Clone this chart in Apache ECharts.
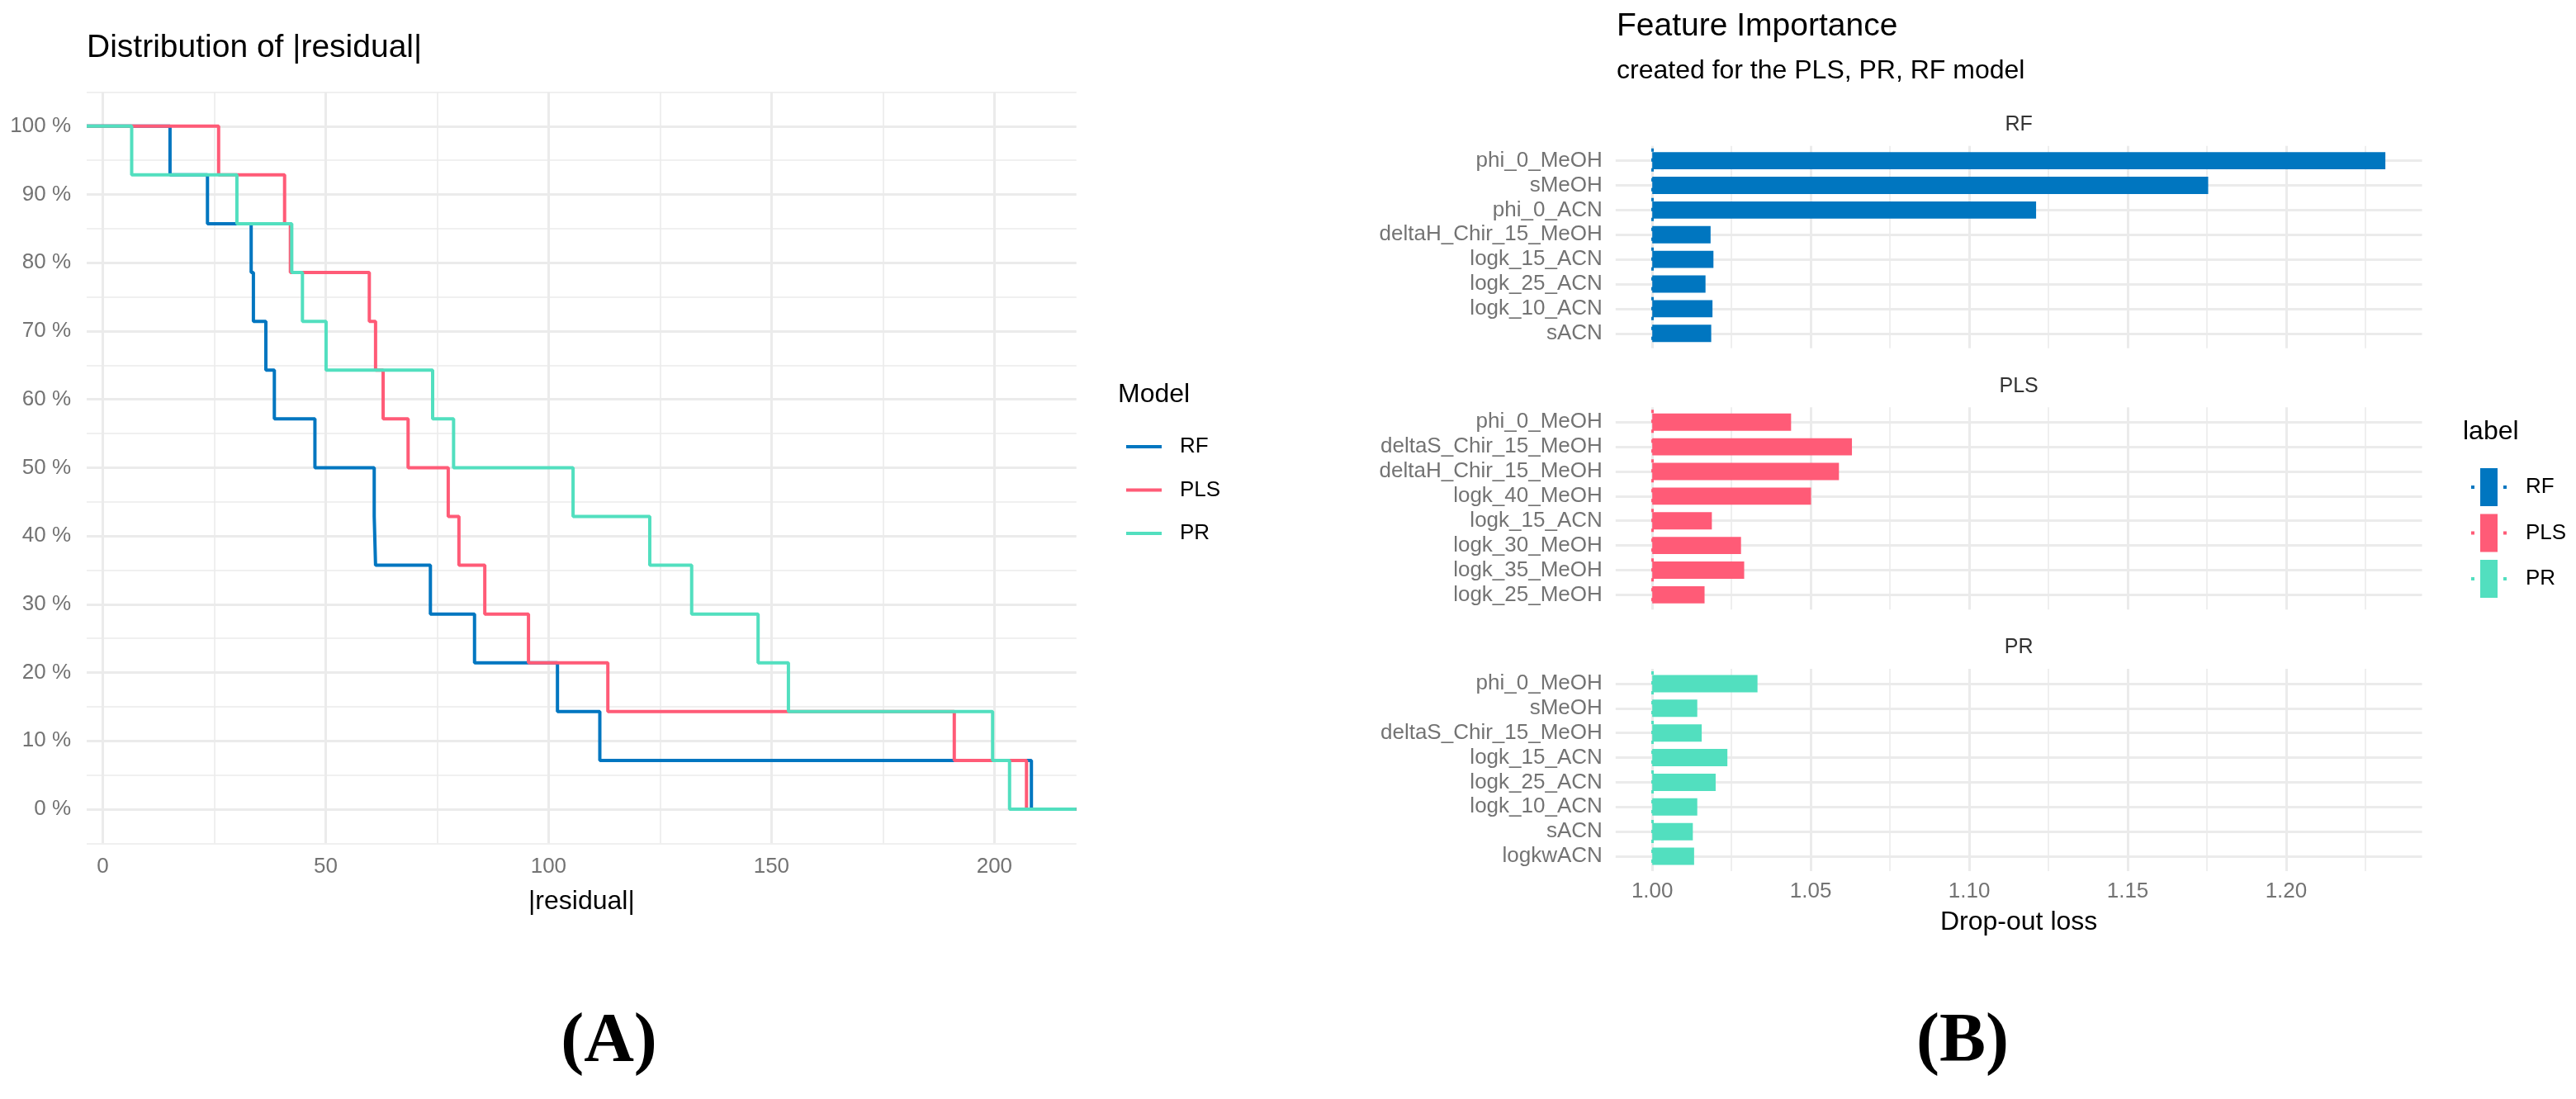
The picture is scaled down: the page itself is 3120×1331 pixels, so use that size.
<!DOCTYPE html>
<html>
<head>
<meta charset="utf-8">
<title>Residuals and feature importance</title>
<script src="https://cdn.jsdelivr.net/npm/echarts@6/dist/echarts.min.js"></script>
<style>
  html, body { margin: 0; padding: 0; background: #fff; }
  #main { width: 3120px; height: 1331px; }
</style>
</head>
<body>
<div id="main"></div>
<script>
var chart = echarts.init(document.getElementById('main'));

// ---- data ----
const models = ['RF', 'PLS', 'PR'];
const modelColors = ['#0076c0', '#ff5b77', '#52dfbf'];

// panel A : |residual| of every observation, per model
const residRF  = [15.1, 23.5, 33.3, 33.8, 36.6, 38.5, 47.6, 60.9, 61.2, 73.5, 83.4, 102.0, 111.5, 208.3];
const residPLS = [26.0, 40.8, 42.1, 59.8, 61.2, 62.9, 68.5, 77.5, 79.9, 85.7, 95.5, 113.3, 191.0, 207.2];
const residPR  = [6.5, 30.1, 42.4, 44.8, 50.1, 74.0, 78.7, 105.5, 122.7, 132.1, 147.0, 153.8, 199.6, 203.4];

const residTicks = [0, 50, 100, 150, 200];
const residMinor = [25, 75, 125, 175];
const shareTicks = [0, 0.1, 0.2, 0.3, 0.4, 0.5, 0.6, 0.7, 0.8, 0.9, 1];
const shareMinor = [-0.05, 0.05, 0.15, 0.25, 0.35, 0.45, 0.55, 0.65, 0.75, 0.85, 0.95, 1.05];

// panel B : drop-out loss per feature
const featRF  = ['phi_0_MeOH', 'sMeOH', 'phi_0_ACN', 'deltaH_Chir_15_MeOH', 'logk_15_ACN', 'logk_25_ACN', 'logk_10_ACN', 'sACN'];
const lossRF  = [1.2313, 1.1754, 1.1211, 1.0184, 1.0193, 1.0168, 1.0190, 1.0186];
const featPLS = ['phi_0_MeOH', 'deltaS_Chir_15_MeOH', 'deltaH_Chir_15_MeOH', 'logk_40_MeOH', 'logk_15_ACN', 'logk_30_MeOH', 'logk_35_MeOH', 'logk_25_MeOH'];
const lossPLS = [1.0438, 1.0630, 1.0589, 1.0501, 1.0188, 1.0280, 1.0290, 1.0165];
const featPR  = ['phi_0_MeOH', 'sMeOH', 'deltaS_Chir_15_MeOH', 'logk_15_ACN', 'logk_25_ACN', 'logk_10_ACN', 'sACN', 'logkwACN'];
const lossPR  = [1.0332, 1.0142, 1.0156, 1.0237, 1.0200, 1.0142, 1.0128, 1.0132];
const fullModelLoss = [1, 1, 1];

const lossTicks = [1.00, 1.05, 1.10, 1.15, 1.20];
const lossMinor = [1.025, 1.075, 1.125, 1.175, 1.225];

// ---- helpers ----
var FONT = '"Liberation Sans", Arial, sans-serif';
var GRID_COL = '#ebebeb';
var TICK_COL = '#737373';

// ggplot-like 5% expansion of a continuous range
function padRange(vals) {
  var lo = Math.min.apply(null, vals), hi = Math.max.apply(null, vals);
  var d = (hi - lo) * 0.05;
  return [lo - d, hi + d];
}

// share of residuals larger than x, as step points
function survivalSteps(res, ext) {
  var s = res.slice().sort(function (a, b) { return a - b; });
  var n = s.length;
  var pts = [[ext[0], 1]];
  s.forEach(function (r, i) { pts.push([r, 1 - (i + 1) / n]); });
  pts.push([ext[1], 0]);
  return pts;
}

function gridAxis(gridIndex, ext, ticks, width, extra) {
  return Object.assign({
    type: 'value',
    gridIndex: gridIndex,
    min: ext[0],
    max: ext[1],
    axisLine: { show: false },
    axisTick: { show: false, customValues: ticks },
    axisLabel: { show: false },
    splitLine: { show: true, lineStyle: { color: GRID_COL, width: width } }
  }, extra || {});
}

var grids = [], xAxes = [], yAxes = [], series = [];

// ---- panel A ----
var residExt = padRange([].concat(residRF, residPLS, residPR));
grids.push({ left: 105, top: 111.4, width: 1198.7, height: 910, outerBoundsMode: 'none' });

xAxes.push(gridAxis(0, residExt, residTicks, 3, {
  axisLabel: { show: true, customValues: residTicks, fontSize: 26, color: TICK_COL, fontFamily: FONT, margin: 15 },
  name: '|residual|',
  nameLocation: 'middle',
  nameGap: 55,
  nameTextStyle: { fontSize: 32, color: '#000', fontFamily: FONT }
}));
xAxes.push(gridAxis(0, residExt, residMinor, 1.6));

yAxes.push(gridAxis(0, [-0.05, 1.05], shareTicks, 3, {
  axisLabel: {
    show: true, customValues: shareTicks, fontSize: 26, color: TICK_COL, fontFamily: FONT, margin: 19,
    formatter: function (v) { return Math.round(v * 100) + ' %'; }
  }
}));
yAxes.push(gridAxis(0, [-0.05, 1.05], shareMinor, 1.6));

[residRF, residPLS, residPR].forEach(function (res, i) {
  series.push({
    type: 'line',
    name: models[i],
    xAxisIndex: 0,
    yAxisIndex: 0,
    step: 'end',
    symbol: 'none',
    showSymbol: false,
    data: survivalSteps(res, residExt),
    itemStyle: { color: modelColors[i] },
    lineStyle: { color: modelColors[i], width: 4 }
  });
});

// ---- panel B : one facet per model ----
var feats = [featRF, featPLS, featPR];
var losses = [lossRF, lossPLS, lossPR];
var lossExt = padRange([].concat(fullModelLoss, lossRF, lossPLS, lossPR));
var panelTops = [176.7, 493.3, 810];
var panelH = 245;
var panelLeft = 1956.8, panelW = 976.7;

models.forEach(function (m, p) {
  var n = feats[p].length;
  // discrete axis: 0.6 of a row added on each side
  var row = panelH / (n + 0.2);
  var bgGrid = grids.length;
  grids.push({ left: panelLeft, top: panelTops[p], width: panelW, height: panelH, outerBoundsMode: 'none' });
  var barGrid = grids.length;
  grids.push({ left: panelLeft, top: panelTops[p] + 0.1 * row, width: panelW, height: n * row, outerBoundsMode: 'none' });

  var last = p === models.length - 1;
  xAxes.push(gridAxis(bgGrid, lossExt, lossTicks, 3, last ? {
    axisLabel: {
      show: true, customValues: lossTicks, fontSize: 26, color: TICK_COL, fontFamily: FONT, margin: 12,
      formatter: function (v) { return v.toFixed(2); }
    },
    name: 'Drop-out loss',
    nameLocation: 'middle',
    nameGap: 46,
    nameTextStyle: { fontSize: 32, color: '#000', fontFamily: FONT }
  } : {}));
  xAxes.push(gridAxis(bgGrid, lossExt, lossMinor, 1.6));
  var barX = xAxes.length;
  xAxes.push({ type: 'value', gridIndex: barGrid, min: lossExt[0], max: lossExt[1], show: false });

  var rowTicks = feats[p].map(function (f, i) { return i + 1; });
  yAxes.push(gridAxis(bgGrid, [0.4, n + 0.6], rowTicks, 3, { inverse: true }));
  var barY = yAxes.length;
  yAxes.push({
    type: 'category',
    gridIndex: barGrid,
    inverse: true,
    data: feats[p],
    axisLine: { show: false },
    axisTick: { show: false },
    splitLine: { show: false },
    axisLabel: { interval: 0, fontSize: 26, color: TICK_COL, fontFamily: FONT, margin: 16 }
  });

  var stackId = 'fi' + p;
  series.push({
    type: 'bar',
    name: m + ' base',
    xAxisIndex: barX,
    yAxisIndex: barY,
    stack: stackId,
    silent: true,
    barWidth: '70%',
    itemStyle: { color: 'rgba(0,0,0,0)' },
    data: feats[p].map(function () { return fullModelLoss[p]; })
  });
  series.push({
    type: 'bar',
    name: m,
    xAxisIndex: barX,
    yAxisIndex: barY,
    stack: stackId,
    barWidth: '70%',
    itemStyle: { color: modelColors[p] },
    data: losses[p].map(function (v) { return v - fullModelLoss[p]; }),
    markLine: {
      silent: true,
      symbol: 'none',
      label: { show: false },
      lineStyle: { color: modelColors[p], type: [4, 8], width: 3 },
      data: [{ xAxis: fullModelLoss[p] }]
    }
  });
});

// ---- free texts ----
function txt(x, y, text, size, opts) {
  opts = opts || {};
  var align = opts.align || 'left';
  return {
    type: 'text',
    x: x,
    y: y,
    silent: true,
    style: {
      text: text,
      fontSize: size,
      fontFamily: opts.family || FONT,
      fontWeight: opts.weight || 'normal',
      fill: opts.color || '#000',
      align: align,
      textAlign: align,
      verticalAlign: 'middle',
      textVerticalAlign: 'middle'
    }
  };
}

var texts = [
  txt(105, 58, 'Distribution of |residual|', 39),
  txt(1958, 32.5, 'Feature Importance', 39),
  txt(1958, 86, 'created for the PLS, PR, RF model', 32),
  txt(1354, 478, 'Model', 32),
  txt(2983, 523, 'label', 32),
  txt(737.5, 1263, '(A)', 84, { align: 'center', family: '"Liberation Serif", "Times New Roman", serif', weight: 'bold' }),
  txt(2377, 1263, '(B)', 84, { align: 'center', family: '"Liberation Serif", "Times New Roman", serif', weight: 'bold' })
];
models.forEach(function (m, p) {
  texts.push(txt(panelLeft + panelW / 2, panelTops[p] - 25.6, m, 25, { align: 'center', color: '#333' }));
});

var option = {
  animation: false,
  backgroundColor: '#fff',
  grid: grids,
  xAxis: xAxes,
  yAxis: yAxes,
  legend: [{
    orient: 'vertical',
    left: 1359,
    top: 523,
    data: models,
    icon: 'rect',
    itemWidth: 43,
    itemHeight: 4,
    itemGap: 26.5,
    itemStyle: { borderWidth: 0 },
    textStyle: { fontSize: 26, color: '#000', fontFamily: FONT, padding: [0, 0, 0, 17] }
  }, {
    orient: 'vertical',
    left: 2988,
    top: 562,
    data: models,
    icon: 'path://M0,21h4v4h-4z M11,0h21v46h-21z M39,21h4v4h-4z',
    itemWidth: 43,
    itemHeight: 46,
    itemGap: 9.5,
    itemStyle: { borderWidth: 0 },
    textStyle: { fontSize: 26, color: '#000', fontFamily: FONT, padding: [0, 0, 0, 18] }
  }],
  graphic: { elements: texts },
  series: series
};

chart.setOption(option);
</script>
</body>
</html>
